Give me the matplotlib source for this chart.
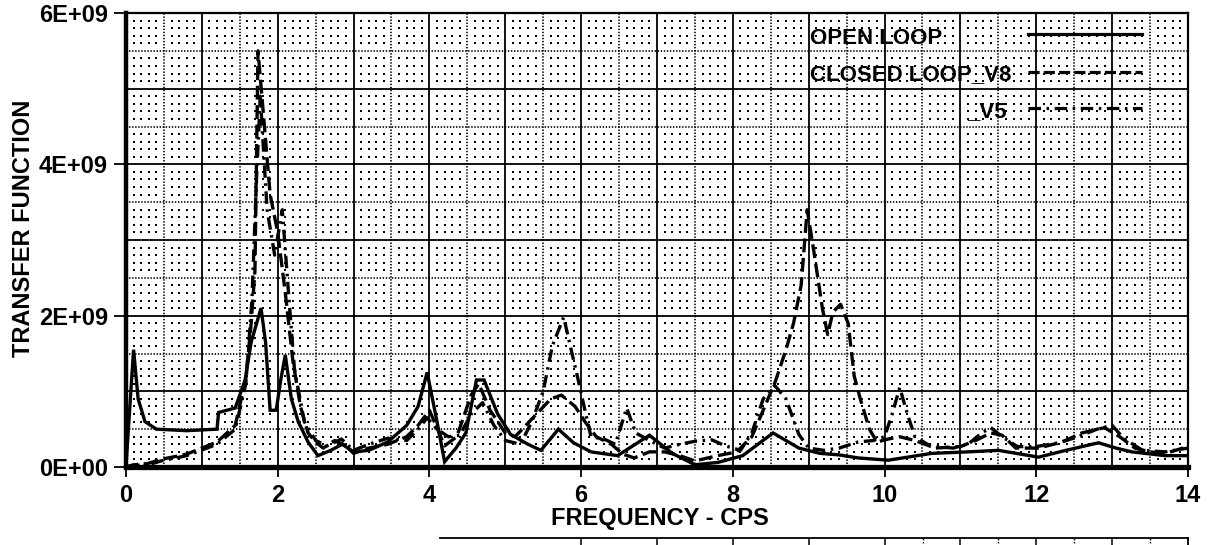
import numpy as np
import matplotlib
matplotlib.use("Agg")
import matplotlib.pyplot as plt
from matplotlib.lines import Line2D

# ---------------- data (values in units of 1E+09) ----------------
open_x = [0.0, 0.1, 0.16, 0.25, 0.4, 0.8, 1.2, 1.22, 1.44, 1.57, 1.65, 1.78, 1.84, 1.9, 1.98,
          2.04, 2.1, 2.18, 2.27, 2.4, 2.53, 2.7, 2.85, 3.0, 3.2, 3.45, 3.7, 3.85, 3.97, 4.1,
          4.2, 4.35, 4.48, 4.62, 4.72, 4.9, 5.07, 5.3, 5.47, 5.7, 5.9, 6.13, 6.48, 6.9, 7.2,
          7.5, 7.8, 8.13, 8.53, 8.87, 9.15, 9.4, 9.65, 10.05, 10.62, 11.1, 11.5, 12.03, 12.39,
          12.82, 13.05, 13.26, 13.7, 14.0]
open_y = [0.02, 1.55, 0.9, 0.6, 0.5, 0.48, 0.5, 0.72, 0.78, 1.15, 1.65, 2.1, 1.65, 0.75, 0.75,
          1.15, 1.48, 0.9, 0.6, 0.33, 0.15, 0.22, 0.3, 0.2, 0.22, 0.33, 0.55, 0.8, 1.25, 0.6,
          0.07, 0.25, 0.45, 1.15, 1.15, 0.7, 0.43, 0.3, 0.22, 0.5, 0.32, 0.2, 0.15, 0.42, 0.18,
          0.03, 0.06, 0.15, 0.45, 0.25, 0.18, 0.16, 0.12, 0.09, 0.18, 0.2, 0.22, 0.13, 0.22,
          0.32, 0.25, 0.2, 0.15, 0.15]

v8_x = [0.0, 0.1, 0.2, 0.3, 0.46, 0.8, 1.2, 1.44, 1.58, 1.65, 1.7, 1.74, 1.8, 1.9, 2.0, 2.1,
        2.2, 2.3, 2.4, 2.5, 2.6, 2.75, 2.9, 3.0, 3.2, 3.45, 3.7, 3.85, 4.0, 4.2, 4.36, 4.55,
        4.65, 4.8, 5.0, 5.13, 5.44, 5.6, 5.74, 5.92, 6.05, 6.2, 6.4, 6.55, 6.7, 6.9, 7.1, 7.3,
        7.5, 7.8, 8.05, 8.25, 8.4, 8.56, 8.7, 8.8, 8.9, 8.98, 9.06, 9.18, 9.25, 9.32, 9.42,
        9.52, 9.6, 9.68, 9.8, 9.9, 10.05, 10.2, 10.4, 10.67, 11.0, 11.2, 11.4, 11.55, 11.73,
        12.03, 12.34, 12.6, 12.9, 13.1, 13.3, 13.5, 13.7, 14.0]
v8_y = [0.0, 0.03, 0.02, 0.05, 0.1, 0.17, 0.33, 0.55, 1.17, 1.9, 2.6, 5.5, 4.8, 3.6, 3.1, 2.3,
        1.4, 0.8, 0.45, 0.33, 0.25, 0.35, 0.28, 0.18, 0.25, 0.3, 0.4, 0.55, 0.75, 0.28, 0.4, 0.95,
        1.1, 0.75, 0.45, 0.4, 0.73, 0.9, 0.95, 0.8, 0.6, 0.4, 0.3, 0.17, 0.12, 0.2, 0.2, 0.15,
        0.08, 0.15, 0.2, 0.4, 0.75, 1.13, 1.55, 1.9, 2.4, 3.4, 2.9, 2.1, 1.75, 2.05, 2.15,
        1.9, 1.2, 0.9, 0.5, 0.33, 0.37, 0.4, 0.35, 0.25, 0.27, 0.35, 0.45, 0.42, 0.25,
        0.25, 0.33, 0.45, 0.52, 0.4, 0.25, 0.2, 0.18, 0.27]

v5_x = [0.0, 0.1, 0.2, 0.3, 0.46, 0.8, 1.2, 1.44, 1.58, 1.66, 1.72, 1.77, 1.86, 1.96, 2.06,
        2.15, 2.22, 2.35, 2.5, 2.65, 2.84, 3.0, 3.2, 3.45, 3.7, 3.85, 3.97, 4.1, 4.25, 4.4,
        4.55, 4.7, 4.85, 5.0, 5.2, 5.35, 5.5, 5.62, 5.77, 5.88, 5.95, 6.05, 6.13, 6.3, 6.45,
        6.6, 6.72, 6.9, 7.1, 7.3, 7.5, 7.72, 7.9, 8.1, 8.25, 8.4, 8.55, 8.7, 8.87, 9.0, 9.2,
        9.4, 9.65, 9.85, 10.0, 10.1, 10.2, 10.3, 10.4, 10.6, 10.9, 11.1, 11.28, 11.4, 11.55,
        11.75, 12.0, 12.3, 12.55, 12.8, 13.0, 13.15, 13.4, 13.7, 14.0]
v5_y = [0.0, 0.02, 0.05, 0.03, 0.08, 0.15, 0.3, 0.5, 1.1, 2.2, 3.8, 4.9, 3.4, 2.8, 3.4,
        2.2, 1.3, 0.6, 0.35, 0.28, 0.37, 0.22, 0.3, 0.38, 0.35, 0.5, 0.65, 0.5, 0.4, 0.42,
        0.7, 0.85, 0.55, 0.35, 0.3, 0.6, 1.0, 1.6, 1.98, 1.5, 1.2, 0.75, 0.4, 0.37, 0.3,
        0.78, 0.45, 0.35, 0.25, 0.3, 0.34, 0.36, 0.28, 0.22, 0.45, 0.9, 1.08, 0.9, 0.43, 0.25, 0.22,
        0.25, 0.33, 0.35, 0.4, 0.7, 1.05, 0.7, 0.4, 0.28, 0.25, 0.3, 0.45, 0.52, 0.4,
        0.27, 0.27, 0.32, 0.4, 0.5, 0.55, 0.38, 0.22, 0.2, 0.25]

x_ticks = [0, 2, 4, 6, 8, 10, 12, 14]
y_ticks = [0, 2e9, 4e9, 6e9]
y_tick_labels = ["0E+00", "2E+09", "4E+09", "6E+09"]
legend_labels = ["OPEN LOOP", "CLOSED LOOP_V8", "_V5"]

# ---------------- style ----------------
plt.rcParams['lines.scale_dashes'] = False
plt.rcParams['font.family'] = ['Liberation Sans', 'DejaVu Sans']
plt.rcParams['font.weight'] = 'bold'

W, H = 1213, 545
fig = plt.figure(figsize=(W / 100, H / 100), dpi=100)
fig.patch.set_facecolor('white')
L, R, T, B = 126, 1188, 13, 467
ax = fig.add_axes([L / W, 1 - B / H, (R - L) / W, (B - T) / H])
ax.set_xlim(0, 14)
ax.set_ylim(0, 6e9)

# graph-paper grid
for xv in range(1, 14):
    ax.axvline(xv, color='black', lw=1.3, zorder=1)
for yv in range(1, 6):
    ax.axhline(yv * 1e9, color='black', lw=1.3, zorder=1)
for xv in np.arange(0.5, 14, 1.0):
    ax.axvline(xv, color='black', lw=1.2, ls=(0, (1, 1.2)), zorder=1)
for yv in np.arange(0.5, 6, 1.0):
    ax.axhline(yv * 1e9, color='black', lw=1.2, ls=(0, (1, 1.2)), zorder=1)
gx = np.array([v for v in np.round(np.arange(0.1, 14, 0.1), 2) if abs(v * 2 - round(v * 2)) > 1e-6])
gy = np.array([v for v in np.round(np.arange(0.1, 6, 0.1), 2) if abs(v * 2 - round(v * 2)) > 1e-6])
GX, GY = np.meshgrid(gx, gy * 1e9)
ax.scatter(GX.ravel(), GY.ravel(), s=3.2, marker='s', color='black', linewidths=0, zorder=1)

# curves
lw = 2.4
ax.plot(open_x, np.array(open_y) * 1e9, color='black', lw=lw, zorder=3,
        solid_joinstyle='miter')
l8, = ax.plot(v8_x, np.array(v8_y) * 1e9, color='black', lw=lw, zorder=3)
l8.set_dashes((10, 4))
l5, = ax.plot(v5_x, np.array(v5_y) * 1e9, color='black', lw=lw, zorder=3)
l5.set_dashes((9, 4, 1.8, 4))

# legend drawn as in the original plot
def fy(py):
    return (B - py) / (B - T)
def fx(px):
    return (px - L) / (R - L)

lfs = 16
ax.text(fx(810), fy(39), legend_labels[0], transform=ax.transAxes, fontsize=lfs,
        va='center', ha='left', zorder=5)
ax.text(fx(810), fy(75), legend_labels[1], transform=ax.transAxes, fontsize=lfs,
        va='center', ha='left', zorder=5)
ax.text(fx(1007), fy(112), legend_labels[2], transform=ax.transAxes, fontsize=lfs,
        va='center', ha='right', zorder=5)
s0 = Line2D([fx(1028), fx(1142)], [fy(34)] * 2, transform=ax.transAxes, color='black', lw=2.3)
s1 = Line2D([fx(1028), fx(1142)], [fy(72)] * 2, transform=ax.transAxes, color='black', lw=2.3)
s1.set_dashes((8, 3))
s2 = Line2D([fx(1028), fx(1142)], [fy(108)] * 2, transform=ax.transAxes, color='black', lw=2.3)
s2.set_dashes((9, 4, 1.8, 4))
for s in (s0, s1, s2):
    s.set_zorder(5)
    ax.add_line(s)

# spines and ticks
ax.spines['left'].set_linewidth(3.2)
ax.spines['bottom'].set_linewidth(3.8)
ax.spines['top'].set_linewidth(1.6)
ax.spines['right'].set_linewidth(1.6)
ax.set_xticks(x_ticks)
ax.set_xticklabels([str(v) for v in x_ticks])
ax.set_yticks(y_ticks)
ax.set_yticklabels(y_tick_labels)
ax.tick_params(axis='x', direction='out', length=7, width=1.3, pad=5, labelsize=17)
ax.tick_params(axis='y', direction='out', length=9, width=1.3, pad=4, labelsize=17)

fig.text(660 / W, 1 - 519 / H, "FREQUENCY - CPS", ha='center', va='center', fontsize=17)
fig.text(24 / W, 1 - 228 / H, "TRANSFER FUNCTION", ha='center', va='center',
         rotation=90, fontsize=17)

# top edge of the next chart on the page
ax2 = fig.add_axes([440 / W, -0.2, (R - 440) / W, 0.2 + (H - 538) / H])
ax2.set_xlim((440 - L) / (R - L) * 14, 14)
ax2.set_ylim(0, 1)
for xv in range(6, 14):
    ax2.axvline(xv, color='black', lw=1.1)
for xv in np.arange(10.5, 14, 1.0):
    ax2.axvline(xv, color='black', lw=1.0, ls=(0, (1, 1.2)))
ax2.spines['left'].set_visible(False)
ax2.spines['bottom'].set_visible(False)
ax2.spines['top'].set_linewidth(1.3)
ax2.spines['right'].set_linewidth(1.3)
ax2.set_xticks([])
ax2.set_yticks([])

fig.savefig("out.png", dpi=100, facecolor='white')
